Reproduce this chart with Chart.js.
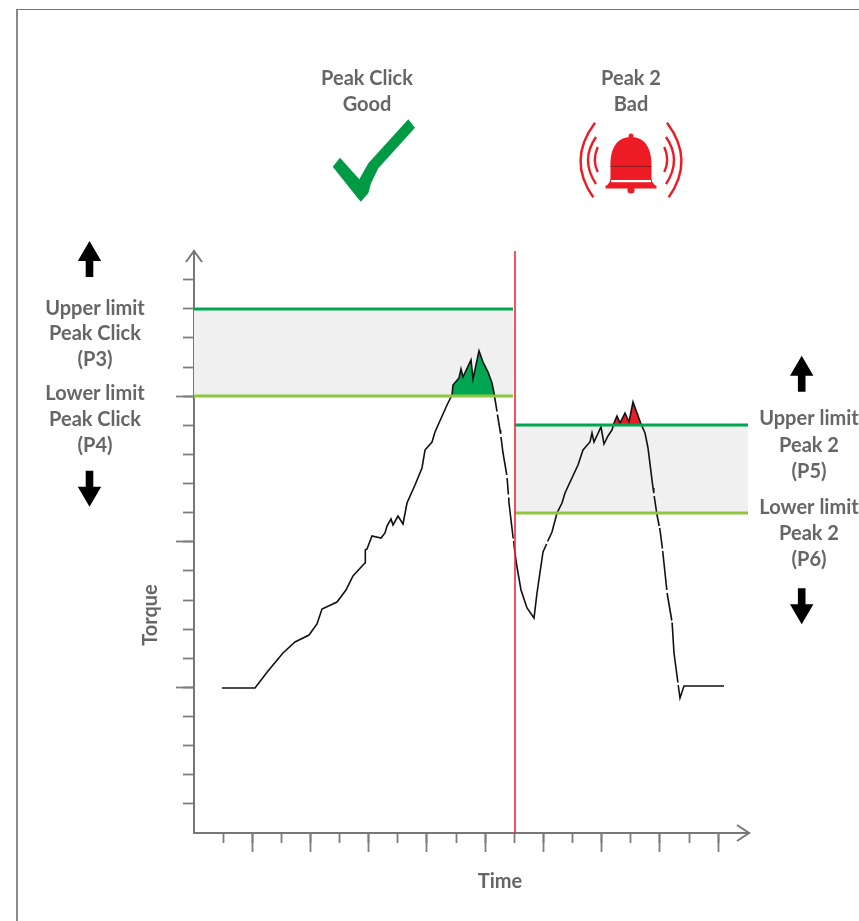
<!DOCTYPE html>
<html>
<head>
<meta charset="utf-8">
<style>
html,body{margin:0;padding:0;background:#fff;overflow:hidden}
#wrap{position:relative;width:859px;height:921px}
#frame{position:absolute;left:16px;top:9px;right:0;bottom:0;border-left:2px solid #8a8a8a;border-top:1.5px solid #777}
canvas{position:absolute;left:0;top:0}
</style>
<script src="https://cdn.jsdelivr.net/npm/chart.js@4/dist/chart.umd.js"></script>
</head>
<body>
<div id="wrap"><div id="frame"></div><canvas id="c" width="859" height="921"></canvas></div>
<script>
const timeClick   = [28,61,74,89,101,115,123,128,143,152,159,169,171,171.3,173,178,187,191,193,197,199,204,209,213,221,228,231,238,241,253,258,259,265,267,269,277,279,285,289,294,298,300,303,303.1,303.4,306,306.6,306.8,307,309,312.8,312.9,313.1,314.4,314.5,314.7,315,319.2,319.3,319.5,321];
const torqueClick = [145,145,162,180,191,198,209,224,231,243,257,268,270,283,284,297,295,300,307,314,308,317,309,330,348,365,383,391,401,428,438,448,455,464,456,473,454,482,471,461,450,440,421.5,null,418.5,403,399,null,396,380,358,null,355,338.5,null,335.5,330,294.5,null,292,280];
const timePeak2   = [321,323,327,333,340,343,349,352.6,353.1,353.6,358,363,368,371,384,389,396,398,400,407,410,414,418,420,423,426,431,435,439,443,447,451,454,459,459.8,460,460.2,463,465.2,465.4,465.6,466,468.4,468.5,468.7,472.8,473,473.1,477.8,478,478.1,480,483.9,484,484.2,486,490,530];
const torquePeak2 = [280,266,243,225,215,240,281,289,null,291.5,301,320,330,340,368,383,391,400,391,406,389,397,403,410,417,410,420,411,431,420,409,400,385,345,340,null,337,318,307,null,305,303,284.5,null,282,243,null,240,212.5,null,210.5,180,150.5,null,148,135,147,147];
const clickUpper = 524, clickLower = 437, peak2Upper = 408, peak2Lower = 320;
const clickSpan = [0,319], peak2Span = [321,554], markerTime = 321, markerSpan = [0,582];
const tickStep = 29.12, xMax = 555, yMax = 582;
const timeTicks = [1,2,3,4,5,6,7,8,9,10,11,12,13,14,15,16,17,18];
const torqueTicks = [1,2,3,4,5,6,7,8,9,10,11,12,13,14,15,16,17,18,19];
const timeMajor = [2,4,6,8,10,12,14,16,18];
const torqueMajor = [5,10,15];
const textBlocks = [
  {cx:367,lines:[['Peak Click',79],['Good',105]]},
  {cx:631,lines:[['Peak 2',79],['Bad',105]]},
  {cx:95,lines:[['Upper limit',309],['Peak Click',334],['(P3)',360],['Lower limit',394],['Peak Click',420],['(P4)',446]]},
  {cx:809,lines:[['Upper limit',419],['Peak 2',446],['(P5)',472],['Lower limit',508],['Peak 2',534],['(P6)',560]]},
  {cx:500,lines:[['Time',882]]}
];
const FONT = '700 20px Lato, sans-serif', GREY = '#666';

const pts = (xs, ys) => xs.map((x,i)=>({x, y:ys[i]}));
const flat = (span, v) => span.map(x=>({x, y:v}));
const tickVals = a => () => a.map(k=>({value:k*tickStep}));

function band(span, top, bottom){
  return {data:flat(span,top), borderWidth:0, borderColor:'transparent', backgroundColor:'#f0f0f0',
          fill:{target:{value:bottom}}, order:9, pointRadius:0};
}
function limit(span, v, color){
  return {data:flat(span,v), borderColor:color, borderWidth:3, fill:false, order:1, pointRadius:0};
}
function curve(xs, ys, level, color){
  return {data:pts(xs,ys), borderColor:'#111', borderWidth:1.6, pointRadius:0, tension:0, order:2, spanGaps:false,
          fill:{target:{value:level}, above:color, below:'rgba(0,0,0,0)'}};
}

const decor = {
  id:'decor',
  afterDraw(chart){
    const g = chart.ctx, xs = chart.scales.x, ys = chart.scales.y;
    const x0 = xs.getPixelForValue(0), y0 = ys.getPixelForValue(0);
    const xe = xs.getPixelForValue(xMax), ye = ys.getPixelForValue(yMax);
    g.save();
    // axis arrowheads
    g.strokeStyle = '#777'; g.lineWidth = 2; g.lineJoin='miter';
    g.beginPath(); g.moveTo(x0-8,ye+11); g.lineTo(x0,ye); g.lineTo(x0+8,ye+11); g.stroke();
    g.beginPath(); g.moveTo(xe-12,y0-8); g.lineTo(xe,y0); g.lineTo(xe-12,y0+8); g.stroke();
    // texts
    g.font = FONT; g.fillStyle = GREY; g.textAlign='center'; g.textBaseline='middle';
    textBlocks.forEach(b=>b.lines.forEach(([t,y])=>g.fillText(t,b.cx,y)));
    g.save(); g.translate(151,615); g.rotate(-Math.PI/2); g.fillText('Torque',0,0); g.restore();
    // check mark
    const check = [[332.7,166.7],[340,157.7],[359.3,179.3],[368.3,163.3],[408.3,119.3],[415,127.7],[378.3,168.3],[371,183.3],[368.3,193.3],[360.7,201.7]];
    g.fillStyle='#009a44'; g.beginPath(); check.forEach((p,i)=>i?g.lineTo(p[0],p[1]):g.moveTo(p[0],p[1])); g.closePath(); g.fill();
    // black arrows
    g.fillStyle='#000';
    const up=(c,t)=>{g.beginPath();g.moveTo(c,t);g.lineTo(c+11.7,t+20);g.lineTo(c+3.8,t+20);g.lineTo(c+3.8,t+36);g.lineTo(c-3.8,t+36);g.lineTo(c-3.8,t+20);g.lineTo(c-11.7,t+20);g.closePath();g.fill();};
    const dn=(c,t)=>{g.beginPath();g.moveTo(c,t);g.lineTo(c-11.7,t-20);g.lineTo(c-3.8,t-20);g.lineTo(c-3.8,t-36);g.lineTo(c+3.8,t-36);g.lineTo(c+3.8,t-20);g.lineTo(c+11.7,t-20);g.closePath();g.fill();};
    up(89.5,241); dn(89.5,506.7); up(801.7,355.7); dn(801.7,624.3);
    // bell
    const c=631, R='#ed1c24';
    g.fillStyle=R;
    g.beginPath(); g.arc(c,136,2.5,0,Math.PI*2); g.fill();
    g.beginPath();
    g.moveTo(c-20.5,167);
    g.bezierCurveTo(c-21,148,c-14,137,c,137);
    g.bezierCurveTo(c+14,137,c+21,148,c+20.5,167);
    g.lineTo(c+20.5,178);
    g.quadraticCurveTo(c+21,184,c+25.5,186);
    g.lineTo(c+25.5,188.5); g.lineTo(c-25.5,188.5); g.lineTo(c-25.5,186);
    g.quadraticCurveTo(c-21,184,c-20.5,178);
    g.closePath(); g.fill();
    g.beginPath(); g.arc(c,190,3.6,0,Math.PI*2); g.fill();
    g.fillStyle='#fff'; g.fillRect(c-20,180,40,2.2);
    g.fillStyle='#7a1a1a'; g.fillRect(c-20.5,166.2,41,0.8);
    g.strokeStyle=R; g.lineWidth=2.4; g.lineCap='butt';
    const wave=(s,top,ctrlX,bottom)=>{g.beginPath();g.moveTo(c+s*top[0],top[1]);g.quadraticCurveTo(c+s*ctrlX,160,c+s*bottom[0],bottom[1]);g.stroke();};
    [-1,1].forEach(s=>{
      wave(s,[36,122.7],64,[37.7,197.3]);
      wave(s,[35,137],51,[35,184]);
      wave(s,[33.3,147],39,[33.3,172]);
    });
    g.restore();
  }
};

new Chart(document.getElementById('c'), {
  type:'line',
  data:{datasets:[
    {data:markerSpan.map(v=>({x:markerTime,y:v})), borderColor:'#ed2a36', borderWidth:1.6, pointRadius:0, fill:false, order:0},
    limit(clickSpan,clickUpper,'#00a651'),
    limit(clickSpan,clickLower,'#8dc63f'),
    limit(peak2Span,peak2Upper,'#00a651'),
    limit(peak2Span,peak2Lower,'#8dc63f'),
    curve(timeClick,torqueClick,clickLower,'#00a651'),
    curve(timePeak2,torquePeak2,peak2Upper,'#ed1c24'),
    band(clickSpan,clickUpper,clickLower),
    band(peak2Span,peak2Upper,peak2Lower)
  ]},
  plugins:[decor],
  options:{
    responsive:false, animation:false, devicePixelRatio:1,
    layout:{padding:{left:194,top:251,right:110,bottom:88}},
    plugins:{legend:{display:false},tooltip:{enabled:false}},
    elements:{line:{tension:0}},
    scales:{
      x:{type:'linear',min:0,max:xMax,position:{y:0},afterBuildTicks:s=>{s.ticks=tickVals(timeTicks)();},
         ticks:{display:false},
         grid:{drawOnChartArea:false,tickLength:9,tickColor:'#7d7d7d',tickWidth:1.8},
         border:{display:true,color:'#777',width:2}},
      xMajor:{type:'linear',axis:'x',min:0,max:xMax,position:{y:0},afterBuildTicks:s=>{s.ticks=tickVals(timeMajor)();},
         ticks:{display:false},
         grid:{drawOnChartArea:false,tickLength:19,tickColor:'#7d7d7d',tickWidth:1.8},
         border:{display:false}},
      y:{type:'linear',min:0,max:yMax,position:{x:0},afterBuildTicks:s=>{s.ticks=tickVals(torqueTicks)();},
         ticks:{display:false},
         grid:{drawOnChartArea:false,tickLength:10,tickColor:'#7d7d7d',tickWidth:1.8},
         border:{display:true,color:'#777',width:2}},
      yMajor:{type:'linear',axis:'y',min:0,max:yMax,position:{x:0},afterBuildTicks:s=>{s.ticks=tickVals(torqueMajor)();},
         ticks:{display:false},
         grid:{drawOnChartArea:false,tickLength:18,tickColor:'#7d7d7d',tickWidth:1.8},
         border:{display:false}}
    }
  }
});
</script>
</body>
</html>
